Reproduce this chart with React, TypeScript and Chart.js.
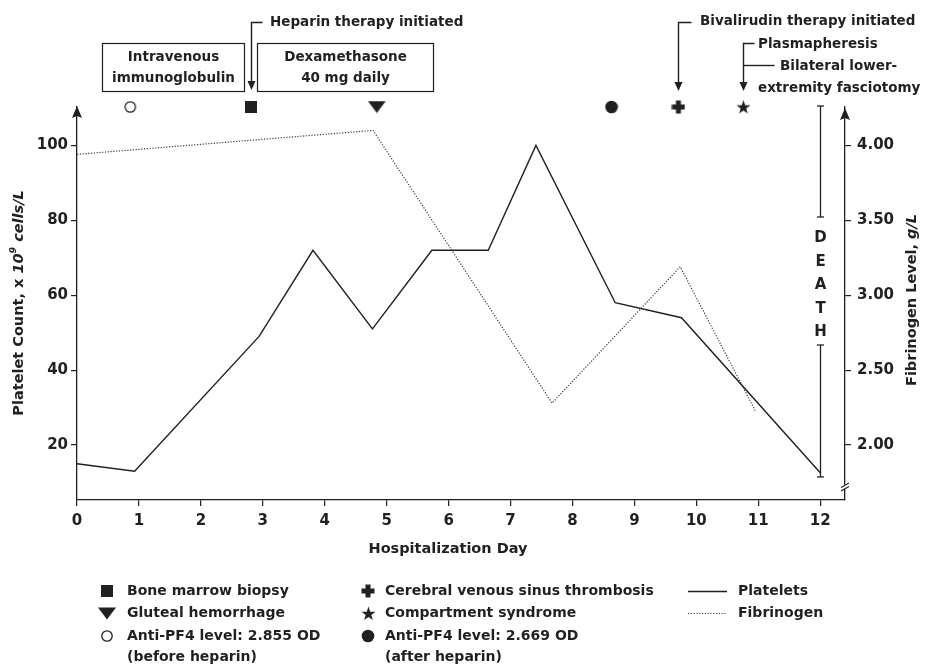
import { useEffect, useRef } from 'react';
import { Chart, registerables } from 'chart.js';

Chart.register(...registerables);

// ---------- data ----------
const dayTicks = [0, 1, 2, 3, 4, 5, 6, 7, 8, 9, 10, 11, 12];
const plateletTicks = [20, 40, 60, 80, 100];
const fibrinogenTicks = [2.0, 2.5, 3.0, 3.5, 4.0];

const plateletDays = [0, 0.93, 2.94, 3.81, 4.77, 5.73, 6.64, 7.41, 8.69, 9.76, 12.0];
const plateletValues = [15, 13, 49, 72, 51, 72, 72, 100, 58, 54, 12.6];

const fibrinogenDays = [0, 4.78, 7.67, 9.74, 10.95];
const fibrinogenValues = [3.94, 4.1, 2.28, 3.19, 2.23];

const eventDays = [0.86, 2.81, 4.84, 8.63, 9.71, 10.76];
const eventKinds = ['openCircle', 'square', 'triangleDown', 'filledCircle', 'plus', 'star'];

const deathDay = 12;

const X_MIN = 0;
const X_MAX = 12.4;
const Y_MIN = 5.34;
const Y_MAX = 110.25;
const Y1_MIN = 1.6335;
const Y1_MAX = 4.256;

const boxLabels = [
  ['Intravenous', 'immunoglobulin'],
  ['Dexamethasone', '40 mg daily'],
];
const heparinLabel = 'Heparin therapy initiated';
const bivalirudinLabel = 'Bivalirudin therapy initiated';
const plasmaLabel = 'Plasmapheresis';
const fasciotomyLabel = ['Bilateral lower-', 'extremity fasciotomy'];
const deathLetters = ['D', 'E', 'A', 'T', 'H'];

const legendCol1 = [
  { kind: 'square', text: ['Bone marrow biopsy'] },
  { kind: 'triangleDown', text: ['Gluteal hemorrhage'] },
  { kind: 'openCircle', text: ['Anti-PF4 level: 2.855 OD', '(before heparin)'] },
];
const legendCol2 = [
  { kind: 'plus', text: ['Cerebral venous sinus thrombosis'] },
  { kind: 'star', text: ['Compartment syndrome'] },
  { kind: 'filledCircle', text: ['Anti-PF4 level: 2.669 OD', '(after heparin)'] },
];
const legendLines = [
  { dashed: false, text: 'Platelets' },
  { dashed: true, text: 'Fibrinogen' },
];

// ---------- styles ----------
const INK = '#231f20';
const FAM = '"DejaVu Sans"';
const font = (size: number, italic = false) => `${italic ? 'italic ' : ''}bold ${size}px ${FAM}`;

function mk(w: number, h: number, draw: (g: CanvasRenderingContext2D) => void) {
  const c = document.createElement('canvas');
  c.width = w;
  c.height = h;
  const g = c.getContext('2d')!;
  g.fillStyle = INK;
  g.strokeStyle = INK;
  draw(g);
  return c;
}

function makeShapes(): Record<string, HTMLCanvasElement> {
  return {
    openCircle: mk(14, 14, (g) => {
      g.fillStyle = '#fff';
      g.lineWidth = 1.3;
      g.beginPath();
      g.arc(7, 7, 5.2, 0, Math.PI * 2);
      g.fill();
      g.stroke();
    }),
    square: mk(12, 12, (g) => {
      g.fillRect(0, 0, 12, 12);
    }),
    triangleDown: mk(18, 13, (g) => {
      g.beginPath();
      g.moveTo(0, 0.5);
      g.lineTo(18, 0.5);
      g.lineTo(9, 12.5);
      g.closePath();
      g.fill();
    }),
    filledCircle: mk(14, 14, (g) => {
      g.beginPath();
      g.arc(7, 7, 6.3, 0, Math.PI * 2);
      g.fill();
    }),
    plus: mk(14, 14, (g) => {
      g.fillRect(4.5, 0.5, 5, 13);
      g.fillRect(0.5, 4.5, 13, 5);
    }),
    star: mk(15, 15, (g) => {
      g.beginPath();
      for (let i = 0; i < 10; i++) {
        const r = i % 2 === 0 ? 7.4 : 2.9;
        const a = -Math.PI / 2 + (i * Math.PI) / 5;
        const px = 7.5 + r * Math.cos(a);
        const py = 8 + r * Math.sin(a);
        if (i === 0) g.moveTo(px, py);
        else g.lineTo(px, py);
      }
      g.closePath();
      g.fill();
    }),
  };
}

function arrowDown(ctx: CanvasRenderingContext2D, x: number, tipY: number) {
  ctx.beginPath();
  ctx.moveTo(x - 4, tipY - 9);
  ctx.lineTo(x + 4, tipY - 9);
  ctx.lineTo(x, tipY);
  ctx.closePath();
  ctx.fill();
}

function arrowUp(ctx: CanvasRenderingContext2D, x: number, tipY: number) {
  ctx.beginPath();
  ctx.moveTo(x, tipY);
  ctx.lineTo(x + 5, tipY + 12);
  ctx.lineTo(x, tipY + 10);
  ctx.lineTo(x - 5, tipY + 12);
  ctx.closePath();
  ctx.fill();
}

function line(ctx: CanvasRenderingContext2D, pts: number[][]) {
  ctx.beginPath();
  pts.forEach((p, i) => (i === 0 ? ctx.moveTo(p[0], p[1]) : ctx.lineTo(p[0], p[1])));
  ctx.stroke();
}

type Seg = { t: string; italic?: boolean; sup?: boolean };
function drawRich(ctx: CanvasRenderingContext2D, segs: Seg[], size: number, cx: number, cy: number, rot: number) {
  ctx.save();
  ctx.translate(cx, cy);
  ctx.rotate(rot);
  ctx.textBaseline = 'middle';
  ctx.textAlign = 'left';
  let total = 0;
  const widths = segs.map((s) => {
    ctx.font = font(s.sup ? size * 0.65 : size, !!s.italic);
    const w = ctx.measureText(s.t).width;
    total += w;
    return w;
  });
  let x = -total / 2;
  segs.forEach((s, i) => {
    ctx.font = font(s.sup ? size * 0.65 : size, !!s.italic);
    ctx.fillText(s.t, x, s.sup ? -5 : 0);
    x += widths[i];
  });
  ctx.restore();
}

export default function App() {
  const ref = useRef<HTMLCanvasElement>(null);

  useEffect(() => {
    const shapes = makeShapes();

    const overlay = {
      id: 'overlay',
      afterDraw(chart: any) {
        const ctx: CanvasRenderingContext2D = chart.ctx;
        const xs = chart.scales.x;
        const ys = chart.scales.y;
        const area = chart.chartArea;
        ctx.save();
        ctx.fillStyle = INK;
        ctx.strokeStyle = INK;
        ctx.lineWidth = 1.3;

        // axis arrows
        arrowUp(ctx, area.left, area.top - 1);
        arrowUp(ctx, area.right, area.top + 1);

        // axis break on the right axis
        ctx.fillStyle = '#fff';
        ctx.beginPath();
        ctx.moveTo(area.right - 5, 487);
        ctx.lineTo(area.right + 5, 482);
        ctx.lineTo(area.right + 5, 486);
        ctx.lineTo(area.right - 5, 491);
        ctx.closePath();
        ctx.fill();
        ctx.fillStyle = INK;
        ctx.lineWidth = 1.1;
        line(ctx, [[area.right - 4, 487.5], [area.right + 4, 483]]);
        line(ctx, [[area.right - 4, 491], [area.right + 4, 486.5]]);
        ctx.lineWidth = 1.3;

        // x title
        ctx.font = font(14.5);
        ctx.textAlign = 'center';
        ctx.textBaseline = 'middle';
        ctx.fillText('Hospitalization Day', 448, 549);

        // y titles
        drawRich(
          ctx,
          [{ t: 'Platelet Count, x ' }, { t: '10', italic: true }, { t: '9', italic: true, sup: true }, { t: ' cells/L', italic: true }],
          14.5,
          19,
          303,
          -Math.PI / 2
        );
        drawRich(ctx, [{ t: 'Fibrinogen Level, ' }, { t: 'g/L', italic: true }], 14.5, 912, 300, -Math.PI / 2);

        // DEATH bar
        const dx = Math.round(xs.getPixelForValue(deathDay)) + 0.5;
        const capTop = area.top - 1;
        const bottom = ys.getPixelForValue(11.5);
        line(ctx, [[dx, capTop], [dx, 217]]);
        line(ctx, [[dx - 3.5, capTop], [dx + 3.5, capTop]]);
        line(ctx, [[dx - 3.5, 217], [dx + 3.5, 217]]);
        line(ctx, [[dx, 345], [dx, bottom]]);
        line(ctx, [[dx - 3.5, 345], [dx + 3.5, 345]]);
        line(ctx, [[dx - 3.5, bottom], [dx + 3.5, bottom]]);
        ctx.font = font(15);
        ctx.textAlign = 'center';
        deathLetters.forEach((ch, i) => ctx.fillText(ch, dx, 238.5 + i * 23.5));

        // boxes
        ctx.lineWidth = 1.2;
        ctx.font = font(13.5);
        const boxes = [
          { x: 102.5, w: 142 },
          { x: 257.5, w: 176 },
        ];
        boxes.forEach((b, i) => {
          ctx.strokeRect(b.x, 43.5, b.w, 48);
          ctx.fillText(boxLabels[i][0], b.x + b.w / 2, 57.5);
          ctx.fillText(boxLabels[i][1], b.x + b.w / 2, 78);
        });

        // callouts
        ctx.textAlign = 'left';
        ctx.lineWidth = 1.4;
        const hx = Math.round(xs.getPixelForValue(eventDays[1])) + 0.5;
        ctx.fillText(heparinLabel, 270, 22);
        line(ctx, [[hx + 11, 22.5], [hx, 22.5], [hx, 82]]);
        arrowDown(ctx, hx, 90);

        const bx = Math.round(xs.getPixelForValue(eventDays[4])) + 0.5;
        ctx.fillText(bivalirudinLabel, 700, 21);
        line(ctx, [[bx + 13, 22.5], [bx, 22.5], [bx, 84]]);
        arrowDown(ctx, bx, 91);

        const px = Math.round(xs.getPixelForValue(eventDays[5])) + 0.5;
        ctx.fillText(plasmaLabel, 758, 44);
        line(ctx, [[px + 11, 43.5], [px, 43.5], [px, 84]]);
        arrowDown(ctx, px, 91);
        line(ctx, [[px, 65.5], [px + 31, 65.5]]);
        ctx.fillText(fasciotomyLabel[0], 780, 66);
        ctx.fillText(fasciotomyLabel[1], 758, 88);

        // legend
        ctx.font = font(14);
        ctx.textAlign = 'left';
        const rowY = [591, 613, 636, 657];
        const drawCol = (items: { kind: string; text: string[] }[], sx: number, tx: number) => {
          let r = 0;
          items.forEach((it) => {
            const img = shapes[it.kind];
            ctx.drawImage(img, Math.round(sx - img.width / 2), Math.round(rowY[r] - img.height / 2));
            it.text.forEach((t) => {
              ctx.fillText(t, tx, rowY[r]);
              r++;
            });
          });
        };
        drawCol(legendCol1, 106.5, 127);
        drawCol(legendCol2, 368, 385);
        legendLines.forEach((l, i) => {
          ctx.save();
          ctx.lineWidth = l.dashed ? 1.1 : 1.4;
          ctx.strokeStyle = l.dashed ? '#444' : INK;
          if (l.dashed) ctx.setLineDash([1.2, 1.6]);
          line(ctx, [[688, rowY[i] + 0.5], [727, rowY[i] + 0.5]]);
          ctx.restore();
          ctx.fillText(l.text, 738, rowY[i]);
        });

        ctx.restore();
      },
    };

    const tickFont = { family: 'DejaVu Sans', weight: 'bold' as const, size: 15 };

    const chart = new Chart(ref.current!, {
      type: 'line',
      data: {
        datasets: [
          {
            label: 'Platelets',
            data: plateletDays.map((d, i) => ({ x: d, y: plateletValues[i] })),
            yAxisID: 'y',
            borderColor: INK,
            borderWidth: 1.4,
            pointRadius: 0,
            tension: 0,
            fill: false,
          },
          {
            label: 'Fibrinogen',
            data: fibrinogenDays.map((d, i) => ({ x: d, y: fibrinogenValues[i] })),
            yAxisID: 'y1',
            borderColor: '#3a3a3a',
            borderWidth: 1.2,
            borderDash: [1.2, 1.6],
            pointRadius: 0,
            tension: 0,
            fill: false,
          },
          {
            label: 'Events',
            type: 'scatter',
            data: eventDays.map((d) => ({ x: d, y: Y_MAX })),
            yAxisID: 'y',
            pointStyle: eventKinds.map((k) => shapes[k]) as any,
            pointRadius: 6,
            showLine: false,
            clip: false as any,
          } as any,
        ],
      },
      options: {
        responsive: false,
        animation: false,
        devicePixelRatio: 1,
        layout: { padding: { top: 107, left: 0, right: 0, bottom: 0 } },
        plugins: { legend: { display: false }, tooltip: { enabled: false } },
        scales: {
          x: {
            type: 'linear',
            min: X_MIN,
            max: X_MAX,
            afterBuildTicks: (s: any) => {
              s.ticks = dayTicks.map((v) => ({ value: v }));
            },
            afterFit: (s: any) => {
              s.height = 165;
            },
            ticks: { font: tickFont, color: INK, padding: 6, maxRotation: 0, autoSkip: false },
            grid: { drawOnChartArea: false, drawTicks: true, tickLength: 6, color: INK, lineWidth: 1.2 },
            border: { display: true, color: INK, width: 1.3 },
          },
          y: {
            type: 'linear',
            position: 'left',
            min: Y_MIN,
            max: Y_MAX,
            afterBuildTicks: (s: any) => {
              s.ticks = plateletTicks.map((v) => ({ value: v }));
            },
            afterFit: (s: any) => {
              s.width = 77;
            },
            ticks: { font: tickFont, color: INK, padding: 3 },
            grid: { drawOnChartArea: false, drawTicks: true, tickLength: 6, color: INK, lineWidth: 1.2 },
            border: { display: true, color: INK, width: 1.3 },
          },
          y1: {
            type: 'linear',
            position: 'right',
            min: Y1_MIN,
            max: Y1_MAX,
            afterBuildTicks: (s: any) => {
              s.ticks = fibrinogenTicks.map((v) => ({ value: v }));
            },
            afterFit: (s: any) => {
              s.width = 84;
            },
            ticks: { font: tickFont, color: INK, padding: 6, callback: (v: any) => Number(v).toFixed(2) },
            grid: { drawOnChartArea: false, drawTicks: true, tickLength: 6, color: INK, lineWidth: 1.2 },
            border: { display: true, color: INK, width: 1.3 },
          },
        },
      } as any,
      plugins: [overlay],
    });
    return () => chart.destroy();
  }, []);

  return (
    <div style={{ position: 'absolute', left: 0, top: 0, width: 929, height: 665, background: '#fff' }}>
      <canvas ref={ref} width={929} height={665} style={{ display: 'block', width: 929, height: 665 }} />
    </div>
  );
}
